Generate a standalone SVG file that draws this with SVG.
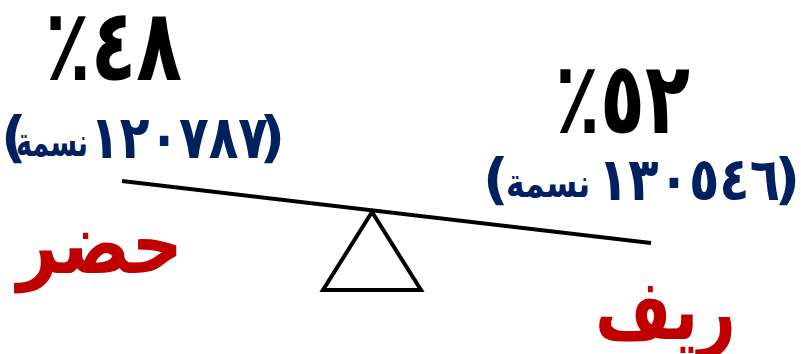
<svg xmlns="http://www.w3.org/2000/svg" width="801" height="354" viewBox="0 0 801 354">
<style>
.ar{font-family:"DejaVu Sans","Noto Sans",sans-serif;font-weight:bold}
.rtl{direction:rtl;unicode-bidi:embed}
.pct{font-size:100px;fill:#000}
.cnt{font-size:60px;fill:#002060}
.par{font-size:56px;fill:#002060}
.sm{font-size:40px;fill:#002060}
.lbl{font-size:84px;fill:#C00000}
.ln{stroke:#000;stroke-width:4;fill:none}
</style>
<rect width="801" height="354" fill="#fff"/>
<g id="connectors">
<line class="ln" x1="122" y1="181" x2="651" y2="243"/>
</g>
<g id="fulcrum">
<polygon class="ln" points="372,212 323,290 421,290" stroke-linejoin="miter"/>
</g>
<g id="urban">
<text class="ar rtl pct" x="182" y="80" text-anchor="start" textLength="137" lengthAdjust="spacingAndGlyphs">٤٨٪</text>
<text class="ar par" x="1" y="156">(</text>
<text class="ar sm" x="88" y="156" text-anchor="end" textLength="72" lengthAdjust="spacingAndGlyphs">نسمة</text>
<text class="ar cnt" x="268" y="158" text-anchor="end" textLength="178" lengthAdjust="spacingAndGlyphs">١٢٠٧٨٧</text>
<text class="ar par" x="285" y="156" text-anchor="end">)</text>
<text class="ar rtl lbl" x="183" y="273" text-anchor="start" textLength="166" lengthAdjust="spacingAndGlyphs">حضر</text>
</g>
<g id="rural">
<text class="ar rtl pct" x="690" y="133" text-anchor="start" textLength="135" lengthAdjust="spacingAndGlyphs">٥٢٪</text>
<text class="ar par" x="483" y="198">(</text>
<text class="ar sm" x="590" y="197" text-anchor="end" textLength="84" lengthAdjust="spacingAndGlyphs">نسمة</text>
<text class="ar cnt" x="780" y="200" text-anchor="end" textLength="182" lengthAdjust="spacingAndGlyphs">١٣٠٥٤٦</text>
<text class="ar par" x="800" y="198" text-anchor="end">)</text>
<text class="ar rtl lbl" x="736" y="339" text-anchor="start" textLength="141" lengthAdjust="spacingAndGlyphs">ريف</text>
</g>
</svg>
